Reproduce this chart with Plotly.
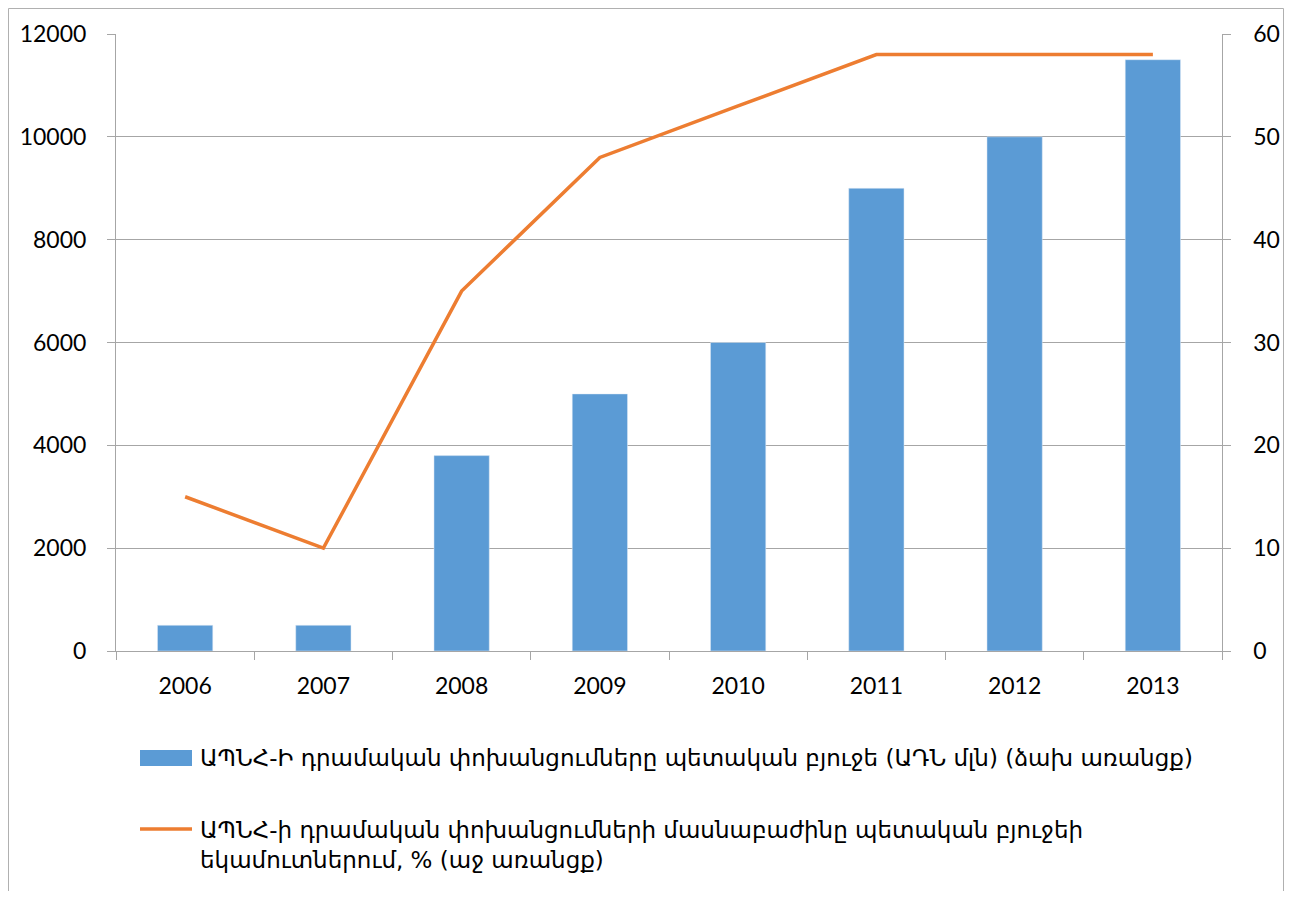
import plotly.graph_objects as go

years = ["2006", "2007", "2008", "2009", "2010", "2011", "2012", "2013"]
transfers_mln = [500, 500, 3800, 5000, 6000, 9000, 10000, 11500]
share_pct = [15, 10, 35, 48, 53, 58, 58, 58]

bar_name = "ԱՊՆՀ-Ի դրամական փոխանցումները պետական բյուջե (ԱԴՆ մլն) (ձախ առանցք)"
line_name = "ԱՊՆՀ-ի դրամական փոխանցումների մասնաբաժինը պետական բյուջեի<br>եկամուտներում, % (աջ առանցք)"

left_ticks = [0, 2000, 4000, 6000, 8000, 10000, 12000]
left_labels = ["0", "2000", "4000", "6000", "8000", "10000", "12000"]
right_ticks = [0, 10, 20, 30, 40, 50, 60]
right_labels = ["0", "10", "20", "30", "40", "50", "60"]

BAR_COLOR = "#5b9bd5"
LINE_COLOR = "#ed7d31"
AX_COLOR = "#a6a6a6"

fig = go.Figure()
fig.add_trace(go.Bar(x=years, y=transfers_mln, name=bar_name, marker_color=BAR_COLOR,
                     width=0.4, yaxis="y"))
fig.add_trace(go.Scatter(x=years, y=share_pct, name=line_name, mode="lines",
                         line=dict(color=LINE_COLOR, width=3.5), yaxis="y2"))

# page offset (body margin) compensation: work in screen coordinates
OFF = 8
W, H = 1292 - 2 * OFF, 899 - 2 * OFF
L, R, T, B = 116 - OFF, 1222 - OFF, 34 - OFF, 651 - OFF
pw, ph = R - L, B - T

def px(x):
    return (x - OFF - L) / pw

def py(y):
    return (B - (y - OFF)) / ph

tickfont = dict(family="Lato, Open Sans, sans-serif", size=23, color="#000000")
legfont = dict(family="DejaVu Sans, Noto Sans, sans-serif", size=23, color="#000000")

PAD = "\u00a0\u00a0\u00a0"

shapes = [
    dict(type="rect", xref="paper", yref="paper", x0=px(8.5), x1=px(1283.5),
         y0=py(920), y1=py(8.5), line=dict(color="#b0b0b0", width=1),
         fillcolor="rgba(0,0,0,0)", layer="below"),
    # legend swatches
    dict(type="rect", xref="paper", yref="paper", x0=px(140), x1=px(192),
         y0=py(766), y1=py(750), line=dict(width=0), fillcolor=BAR_COLOR),
    dict(type="line", xref="paper", yref="paper", x0=px(140), x1=px(192),
         y0=py(829), y1=py(829), line=dict(color=LINE_COLOR, width=3.5)),
]

annotations = [
    dict(xref="paper", yref="paper", x=px(198), y=py(758), xanchor="left", yanchor="middle",
         text=bar_name, showarrow=False, font=legfont, align="left"),
    dict(xref="paper", yref="paper", x=px(198), y=py(845), xanchor="left", yanchor="middle",
         text=line_name, showarrow=False, font=legfont, align="left"),
]

fig.update_layout(
    width=W, height=H,
    margin=dict(l=L, r=W - R, t=T, b=H - B, autoexpand=False),
    paper_bgcolor="white", plot_bgcolor="white",
    showlegend=False,
    xaxis=dict(type="category", range=[-0.5, 7.5], showline=True, linecolor=AX_COLOR,
               linewidth=1, ticks="outside", tickson="boundaries", ticklen=8,
               tickcolor=AX_COLOR, tickfont=tickfont, showgrid=False,
               ticklabelstandoff=14, automargin=False),
    yaxis=dict(range=[0, 12000], tickvals=left_ticks, ticktext=left_labels, showline=True,
               linecolor=AX_COLOR, ticks="outside", ticklen=8, tickcolor=AX_COLOR,
               showgrid=True, gridcolor=AX_COLOR, gridwidth=1, tickfont=tickfont,
               zeroline=False, ticklabelstandoff=16, automargin=False),
    yaxis2=dict(range=[0, 60], tickvals=right_ticks, ticktext=[PAD + t for t in right_labels],
                overlaying="y", side="right",
                showline=True, linecolor=AX_COLOR, ticks="outside", ticklen=8,
                tickcolor=AX_COLOR, showgrid=False, tickfont=tickfont, zeroline=False,
                automargin=False, ticklabeloverflow="allow"),
    shapes=shapes,
    annotations=annotations,
)

fig.write_html("out.html")
